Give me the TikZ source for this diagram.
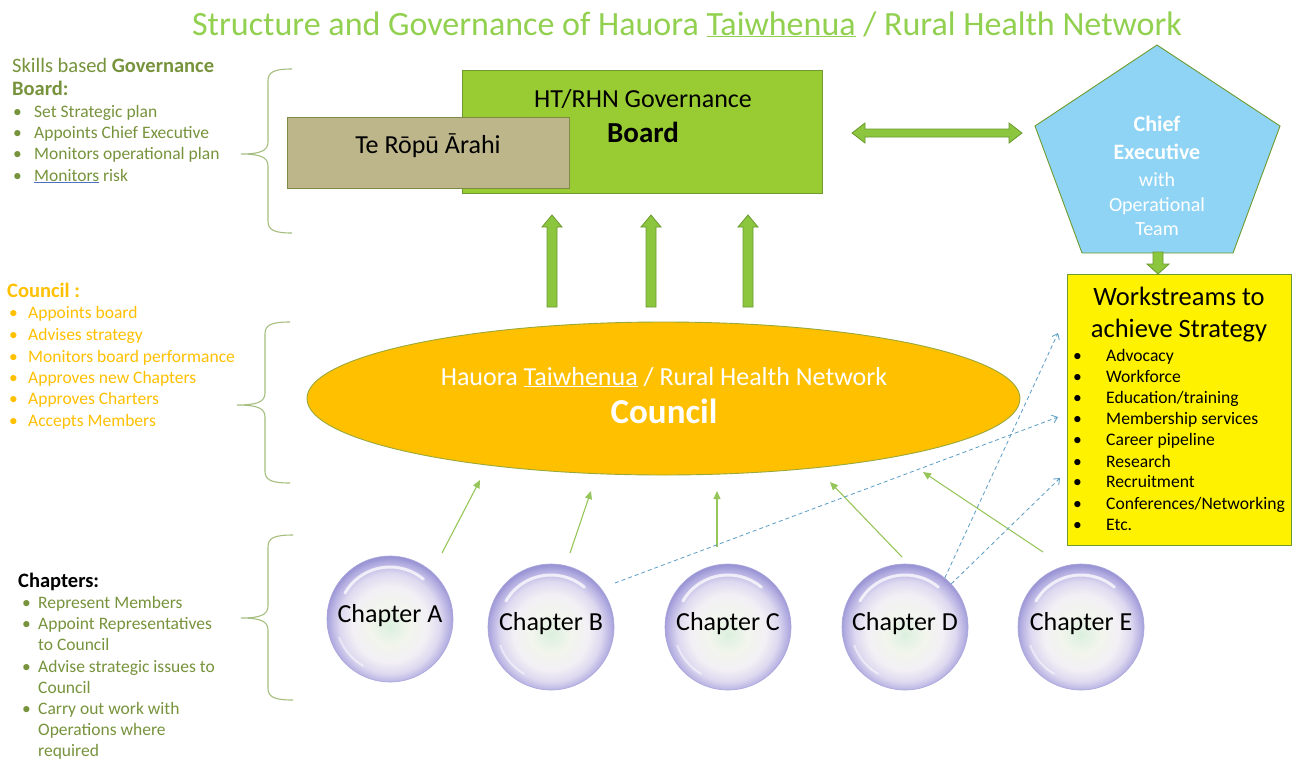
\documentclass[tikz,border=0pt]{standalone}
\usepackage{fontspec}
\setmainfont{Carlito}
\usetikzlibrary{arrows.meta,calc,shapes.geometric}

\definecolor{titlegreen}{HTML}{92D050}
\definecolor{olive}{HTML}{77933C}
\definecolor{gold}{HTML}{FFC000}
\definecolor{bracecol}{HTML}{A7BF7E}
\definecolor{boardfill}{HTML}{99CC33}
\definecolor{boardline}{HTML}{6F9A2F}
\definecolor{khaki}{HTML}{BDB68A}
\definecolor{khakiline}{HTML}{7D8B45}
\definecolor{ceoblue}{HTML}{8FD4F5}
\definecolor{arrowgreen}{HTML}{8CC63F}
\definecolor{arrowline}{HTML}{6A9A2E}
\definecolor{thingreen}{HTML}{96C65A}
\definecolor{dashblue}{HTML}{5A9CC4}
\definecolor{ellipseline}{HTML}{9AA83A}
\definecolor{ulblue}{HTML}{4F6FC0}
\definecolor{bubbleline}{HTML}{A9A6DC}

\pgfdeclareradialshading{pearl}{\pgfpoint{0bp}{-3bp}}{%
rgb(0bp)=(0.86,0.94,0.87);
rgb(8bp)=(0.95,0.96,0.93);
rgb(15bp)=(0.95,0.94,0.96);
rgb(20bp)=(0.87,0.85,0.94);
rgb(24bp)=(0.70,0.68,0.88);
rgb(26bp)=(0.60,0.58,0.83);
rgb(50bp)=(0.60,0.58,0.83)}

\newcommand\leftcurl[6]{\draw[bracestyle] (#1,#4) .. controls (#2+6,#4) and (#2,#4+3) .. (#2,#4+12) -- (#2,#5-12) .. controls (#2,#5-3) and (#2-8,#5) .. (#3,#5) .. controls (#2-8,#5) and (#2,#5+3) .. (#2,#5+12) -- (#2,#6-12) .. controls (#2,#6-3) and (#2+6,#6) .. (#1,#6);}

\newcommand\blockup[3]{\filldraw[blockarrow] (#1-5,#3) -- (#1-5,#2+12) -- (#1-10,#2+12) -- (#1,#2) -- (#1+10,#2+12) -- (#1+5,#2+12) -- (#1+5,#3) -- cycle;}

\tikzset{
  lt/.style={anchor=base west, inner sep=0pt, font=\fontsize{17.5}{21}\selectfont},
  hd/.style={anchor=base west, inner sep=0pt, font=\fontsize{20.5}{24}\bfseries\selectfont},
  ct/.style={anchor=base, inner sep=0pt},
  bracestyle/.style={draw=bracecol, line width=1.1pt},
  blockarrow/.style={fill=arrowgreen, draw=arrowline, line width=0.8pt, line join=miter},
  bubble/.style={circle, minimum size=126pt, inner sep=0pt, shading=pearl, draw=bubbleline, line width=0.6pt,
     font=\fontsize{26}{30}\selectfont, text height=0.65em, text depth=0pt},
  thinarrow/.style={draw=thingreen, line width=1.1pt, -{Triangle[length=8pt,width=7pt]}},
  dasharrow/.style={draw=dashblue, line width=0.8pt, dash pattern=on 4pt off 3pt, -{Straight Barb[length=5pt,width=8pt]}},
}

\begin{document}
\begin{tikzpicture}[x=1pt,y=-1pt]
\useasboundingbox (0,0) rectangle (1292,761);
\fill[white] (0,0) rectangle (1292,761);

% title
\node[ct, text=titlegreen, font=\fontsize{34}{40}\selectfont] (title) at (687,35) {Structure and Governance of Hauora \underline{Taiwhenua} / Rural Health Network};

% braces
\leftcurl{292}{268}{241}{69}{154}{233}
\leftcurl{290}{265}{237}{322}{405}{483}
\leftcurl{293}{268}{241}{535}{618}{700}

% governance text
\node[lt, text=olive, font=\fontsize{20.5}{24}\selectfont] (gh1) at (12,72) {Skills based \textbf{Governance}};
\node[hd, text=olive] (gh2) at (12,95) {Board:};
\foreach \yy/\txt [count=\i] in {117/{Set Strategic plan},138/{Appoints Chief Executive},159/{Monitors operational plan}}{
  \node[lt, text=olive] (gb\i) at (13,\yy) {•};
  \node[lt, text=olive] (gt\i) at (34,\yy) {\txt};
}
\node[lt, text=olive] (gb4) at (13,181) {•};
\node[lt, text=olive] (gt4) at (34,181) {{\color{ulblue}\underline{\color{olive}Monitors}} risk};

% council text
\node[hd, text=gold] (ch) at (7,297) {Council :};
\foreach \yy/\txt [count=\i] in {318/{Appoints board},340/{Advises strategy},362/{Monitors board performance},383/{Approves new Chapters},404/{Approves Charters},426/{Accepts Members}}{
  \node[lt, text=gold] (cb\i) at (9,\yy) {•};
  \node[lt, text=gold] (ct\i) at (28,\yy) {\txt};
}

% chapters text
\node[hd, text=black] (chh) at (18,587) {Chapters:};
\foreach \yy [count=\i] in {608,629,672,714}{
  \node[lt, text=olive] (pb\i) at (22,\yy) {•};
}
\foreach \yy/\txt [count=\i] in {608/{Represent Members},629/{Appoint Representatives},650/{to Council},672/{Advise strategic issues to},693/{Council},714/{Carry out work with},735/{Operations where},756/{required}}{
  \node[lt, text=olive] (pt\i) at (38,\yy) {\txt};
}

% board
\node[draw=boardline, fill=boardfill, line width=0.9pt, minimum width=360pt, minimum height=123pt, inner sep=0pt] (board) at (642,131.5) {};
\node[draw=khakiline, fill=khaki, line width=0.9pt, minimum width=282pt, minimum height=71pt, inner sep=0pt] (tera) at (428,153) {};
\node[ct, font=\fontsize{26}{30}\selectfont] (boardt1) at (643,107) {HT/RHN Governance};
\node[ct, font=\fontsize{29}{34}\bfseries\selectfont] (boardt2) at (643,142) {Board};
\node[ct, font=\fontsize{26}{30}\selectfont] (terat) at (428,153) {Te Rōpū Ārahi};

% double arrow board <-> CEO
\coordinate (dl) at (852,133);
\coordinate (dr) at (1022,133);
\filldraw[blockarrow] (dl) -- ++(13,-10) -- ++(0,6) -- ($(dr)+(-13,-4)$) -- ++(0,-6) -- (dr) -- ++(-13,10) -- ++(0,-6) -- ($(dl)+(13,4)$) -- ++(0,6) -- cycle;

% CEO pentagon
\filldraw[fill=ceoblue, draw=boardline, line width=0.9pt] (1157,45) -- (1280,126) -- (1233,253) -- (1082,253) -- (1035,126) -- cycle;
\node[ct, text=white, font=\fontsize{22}{26}\bfseries\selectfont] (ceo1) at (1157,131) {Chief};
\node[ct, text=white, font=\fontsize{22}{26}\bfseries\selectfont] (ceo2) at (1157,159) {Executive};
\node[ct, text=white, font=\fontsize{20}{24}\selectfont] (ceo3) at (1157,186) {with};
\node[ct, text=white, font=\fontsize{20}{24}\selectfont] (ceo4) at (1157,211) {Operational};
\node[ct, text=white, font=\fontsize{20}{24}\selectfont] (ceo5) at (1157,235) {Team};
\coordinate (ceoS) at (1158,252);

% workstreams
\node[draw=boardline, fill=yellow, line width=0.9pt, minimum width=224pt, minimum height=271pt, inner sep=0pt] (ws) at (1179,409.5) {};
\coordinate (wsT) at (1158,274);
\filldraw[blockarrow] ($(ceoS)+(-5,0)$) -- ($(ceoS)+(5,0)$) -- ($(ceoS)+(5,12)$) -- ($(ceoS)+(11,12)$) -- (wsT) -- ($(ceoS)+(-11,12)$) -- ($(ceoS)+(-5,12)$) -- cycle;
\node[ct, font=\fontsize{26.5}{31}\selectfont] (wst1) at (1179,305) {Workstreams to};
\node[ct, font=\fontsize{26.5}{31}\selectfont] (wst2) at (1179,337) {achieve Strategy};
\foreach \yy/\txt [count=\i] in {361/{Advocacy},382/{Workforce},403/{Education/training},424/{Membership services},445/{Career pipeline},467/{Research},487/{Recruitment},509/{Conferences/Networking},530/{Etc.}}{
  \node[lt, font=\fontsize{17.6}{21}\selectfont] (wb\i) at (1073,\yy) {•};
  \node[lt, font=\fontsize{17.6}{21}\selectfont] (wt\i) at (1106,\yy) {\txt};
}

% up arrows council -> board
\blockup{552}{215}{307}
\blockup{651}{215}{307}
\blockup{748}{215}{307}

% council
\node[ellipse, draw=ellipseline, fill=gold, line width=0.9pt, minimum width=713pt, minimum height=153pt, inner sep=0pt] (council) at (663.5,398.5) {};
\node[ct, text=white, font=\fontsize{26}{30}\selectfont] (councilt1) at (664,385) {Hauora \underline{Taiwhenua} / Rural Health Network};
\node[ct, text=white, font=\fontsize{35}{40}\bfseries\selectfont] (councilt2) at (664,423) {Council};

% chapters
\node[bubble] (chA) at (390,619) {Chapter A};
\node[bubble] (chB) at (551,627) {Chapter B};
\node[bubble] (chC) at (728,627) {Chapter C};
\node[bubble] (chD) at (905,627) {Chapter D};
\node[bubble] (chE) at (1081,627) {Chapter E};
\foreach \c in {chA,chB,chC,chD,chE}{
  \draw[white, opacity=0.75, line width=3pt, line cap=round] ($(\c)+(-150:52)$) arc[start angle=-150, end angle=-50, radius=52];
  \draw[white, opacity=0.5, line width=2pt, line cap=round] ($(\c)+(160:54)$) arc[start angle=160, end angle=120, radius=54];
}

% green arrows chapters -> council
\coordinate (gA1) at (442,553); \coordinate (gA2) at (480,480);
\coordinate (gB1) at (570,553); \coordinate (gB2) at (591,491);
\coordinate (gC1) at (717,547); \coordinate (gC2) at (717,491);
\coordinate (gD1) at (902,557); \coordinate (gD2) at (830,482);
\coordinate (gE1) at (1043,552); \coordinate (gE2) at (923,472);
\draw[thinarrow] (gA1) -- (gA2);
\draw[thinarrow] (gB1) -- (gB2);
\draw[thinarrow] (gC1) -- (gC2);
\draw[thinarrow] (gD1) -- (gD2);
\draw[thinarrow] (gE1) -- (gE2);

% dashed blue arrows chapters -> workstreams
\coordinate (bB1) at (615,583); \coordinate (bB2) at (1058,417);
\coordinate (bD1) at (1058,333); \coordinate (bD2) at (1060,478);
\draw[dasharrow] (bB1) -- (bB2);
\draw[dasharrow] (chD.51) -- (bD1);
\draw[dasharrow] (chD.43) -- (bD2);
\end{tikzpicture}
\end{document}
